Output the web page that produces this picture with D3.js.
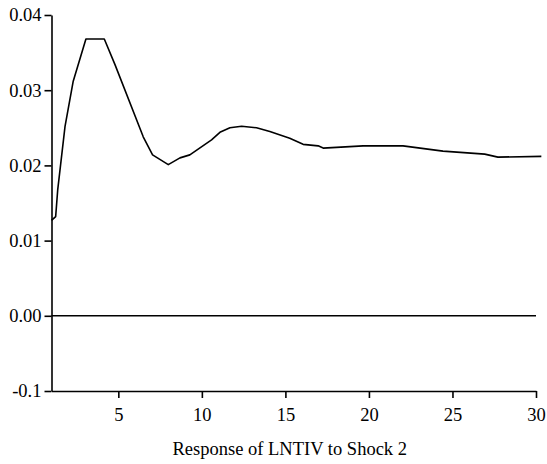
<!DOCTYPE html>
<html>
  <head>
    <meta charset="utf-8">
    <script src="https://d3js.org/d3.v7.min.js"></script>
    <style>
      body { margin: 0px; background: #fff; }
      .domain { stroke: #000; stroke-width: 1.6; }
      .tick line { stroke: #000; stroke-width: 1.6; }
    </style>
  </head>
  <body>
    <svg width="547" height="464"></svg>
    <script>
      // response path (period, response)
      const periods = [1, 1.25, 1.37, 1.81, 2.30, 3.06, 4.16, 4.80, 6.49, 7.05,
        7.99, 8.69, 9.28, 10.58, 11.08, 11.68, 12.38, 13.27, 14.07, 15.26,
        16.06, 16.96, 17.26, 19.65, 22.04, 24.43, 26.93, 27.72, 30.32];
      const responses = [0.0127, 0.0132, 0.0167, 0.0252, 0.0312, 0.0368, 0.0368, 0.0334, 0.0238, 0.0214,
        0.0201, 0.0210, 0.0214, 0.0234, 0.0244, 0.0250, 0.0252, 0.0250, 0.0245, 0.0236,
        0.0228, 0.0226, 0.0223, 0.0226, 0.0226, 0.0219, 0.0215, 0.0211, 0.0212];

      const xTicks = [5, 10, 15, 20, 25, 30];
      const yTicks = [-0.01, 0, 0.01, 0.02, 0.03, 0.04];
      const yTickLabels = ['-0.1', '0.00', '0.01', '0.02', '0.03', '0.04'];
      const xLabel = 'Response of LNTIV to Shock 2';

      const data = periods.map((p, i) => ({ period: p, value: responses[i] }));
      const serif = 'Liberation Serif, serif';
      const fontSize = 18.5;

      const margin = { left: 51.5, right: 11, top: 15, bottom: 73 };
      const svg = d3.select('svg');
      const width = +svg.attr('width');
      const height = +svg.attr('height');
      const innerWidth = width - margin.left - margin.right;
      const innerHeight = height - margin.top - margin.bottom;

      const g = svg.append('g')
          .attr('transform', `translate(${margin.left},${margin.top})`);

      const xScale = d3.scaleLinear().domain([1, 30]).range([0, innerWidth]);
      const yScale = d3.scaleLinear().domain([-0.01, 0.04]).range([innerHeight, 0]);

      const xAxis = d3.axisBottom(xScale)
        .tickValues(xTicks)
        .tickSize(7)
        .tickSizeOuter(0)
        .tickPadding(10);

      const yAxis = d3.axisLeft(yScale)
        .tickValues(yTicks)
        .tickFormat((d, i) => yTickLabels[i])
        .tickSize(7)
        .tickSizeOuter(0)
        .tickPadding(3);

      const xAxisG = g.append('g')
          .attr('transform', `translate(0,${innerHeight})`)
          .call(xAxis);
      const yAxisG = g.append('g').call(yAxis);

      [xAxisG, yAxisG].forEach(a => a
          .attr('font-family', null)
          .attr('font-size', null)
        .selectAll('text')
          .style('font-family', serif)
          .attr('font-size', fontSize)
          .attr('fill', '#000'));

      // zero line
      g.append('line')
          .attr('x1', 0)
          .attr('x2', innerWidth)
          .attr('y1', yScale(0))
          .attr('y2', yScale(0))
          .attr('stroke', '#000')
          .attr('stroke-width', 1.6);

      const line = d3.line()
        .x(d => xScale(d.period))
        .y(d => yScale(d.value));

      g.append('path')
          .datum(data)
          .attr('fill', 'none')
          .attr('stroke', '#000')
          .attr('stroke-width', 1.6)
          .attr('stroke-linejoin', 'round')
          .attr('d', line);

      svg.append('text')
          .attr('x', margin.left + innerWidth / 2 - 4)
          .attr('y', 455)
          .attr('text-anchor', 'middle')
          .style('font-family', serif)
          .attr('font-size', fontSize)
          .attr('fill', '#000')
          .text(xLabel);
    </script>
  </body>
</html>
